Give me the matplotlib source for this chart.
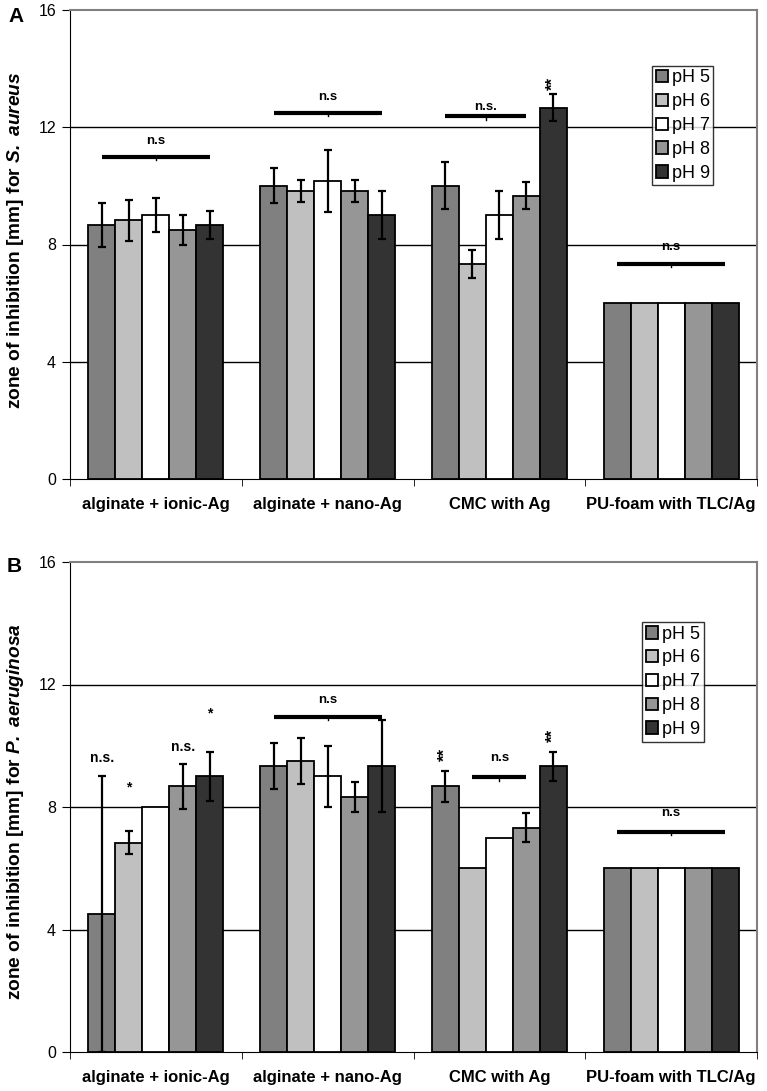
import numpy as np
import matplotlib
matplotlib.use("Agg")
import matplotlib.pyplot as plt
from matplotlib.patches import Patch

plt.rcParams['font.family'] = ['Liberation Sans', 'DejaVu Sans']
plt.rcParams['mathtext.fontset'] = 'custom'
plt.rcParams['mathtext.bfit'] = 'Liberation Sans:italic:bold'

# data
groups = ["alginate + ionic-Ag", "alginate + nano-Ag", "CMC with Ag", "PU-foam with TLC/Ag"]
ph_labels = ["pH 5", "pH 6", "pH 7", "pH 8", "pH 9"]
ph_colors = ["#808080", "#c0c0c0", "#ffffff", "#969696", "#333333"]

# panel A: S. aureus (rows = pH 5..9, columns = groups)
a_mean = [[8.67, 10.0, 10.0, 6.0],
          [8.83, 9.83, 7.33, 6.0],
          [9.0, 10.17, 9.0, 6.0],
          [8.5, 9.83, 9.67, 6.0],
          [8.67, 9.0, 12.67, 6.0]]
a_err = [[0.75, 0.6, 0.8, 0],
         [0.7, 0.37, 0.47, 0],
         [0.58, 1.07, 0.82, 0],
         [0.5, 0.37, 0.47, 0],
         [0.47, 0.82, 0.47, 0]]

# panel B: P. aeruginosa
b_mean = [[4.5, 9.33, 8.67, 6.0],
          [6.83, 9.5, 6.0, 6.0],
          [8.0, 9.0, 7.0, 6.0],
          [8.67, 8.33, 7.33, 6.0],
          [9.0, 9.33, 9.33, 6.0]]
b_err = [[4.5, 0.75, 0.5, 0],
         [0.38, 0.75, 0, 0],
         [0, 1.0, 0, 0],
         [0.75, 0.48, 0.47, 0],
         [0.8, 1.5, 0.47, 0]]

# significance bars: (group, first pH idx, last pH idx, line y, text y, label)
a_lines = [(0, 0, 4, 11.0, 11.53, "n.s"), (1, 0, 4, 12.5, 13.04, "n.s"),
           (2, 0, 3, 12.37, 12.69, "n.s."), (3, 0, 4, 7.35, 7.92, "n.s")]
b_lines = [(1, 0, 4, 10.95, 11.48, "n.s"), (2, 1, 3, 8.97, 9.59, "n.s"),
           (3, 0, 4, 7.2, 7.8, "n.s")]
# single marks: (group, pH idx, y, label)
a_marks = [(2, 4, 13.5, "**")]
b_marks = [(0, 0, 9.59, "n.s."), (0, 1, 8.65, "*"), (0, 3, 9.96, "n.s."), (0, 4, 11.05, "*"),
           (2, 0, 9.7, "**"), (2, 4, 10.35, "**")]

bw = 0.157
x = np.arange(len(groups))


def panel(ax, mean, err, lines, marks, leg_anchor):
    for i in range(len(ph_labels)):
        xs = x + (i - 2) * bw
        ax.bar(xs, mean[i], bw, color=ph_colors[i], edgecolor='black', linewidth=1.3, zorder=3)
        e = np.array(err[i])
        m = np.array(mean[i])
        ok = e > 0
        ax.errorbar(xs[ok], m[ok], yerr=e[ok], fmt='none', ecolor='black',
                    elinewidth=1.6, capsize=2.8, capthick=1.6, zorder=4)
    for g, i0, i1, y, ty, t in lines:
        x0 = g + (i0 - 2) * bw
        x1 = g + (i1 - 2) * bw
        ax.plot([x0, x1], [y, y], color='black', lw=3, solid_capstyle='butt', zorder=5)
        ax.plot([(x0 + x1) / 2] * 2, [y, y - 0.12], color='black', lw=1, zorder=5)
        ax.text((x0 + x1) / 2, ty, t, ha='center', va='center', fontsize=9.5,
                fontweight='bold')
    for g, i, y, t in marks:
        if t == "**":
            ax.text(g + (i - 2) * bw, y, t, ha='center', va='center', fontsize=12,
                    fontweight='bold', rotation=90)
        else:
            ax.text(g + (i - 2) * bw, y, t, ha='center', va='center', fontsize=10,
                    fontweight='bold')

    ax.set_xlim(-0.5, 3.5)
    ax.set_ylim(0, 16)
    ax.set_yticks([0, 4, 8, 12, 16])
    ax.tick_params(axis='y', direction='out', length=6, labelsize=11.5, pad=4)
    ax.set_xticks(x)
    ax.set_xticklabels(groups, fontsize=12, fontweight='bold')
    ax.tick_params(axis='x', length=0, pad=13)
    ax.set_xticks([-0.5, 0.5, 1.5, 2.5, 3.5], minor=True)
    ax.tick_params(axis='x', which='minor', direction='out', length=5)
    for yv in [4, 8, 12]:
        ax.axhline(yv, color='black', lw=1, zorder=1)
    ax.spines['top'].set_color('#808080')
    ax.spines['right'].set_color('#808080')
    ax.spines['top'].set_linewidth(1.5)
    ax.spines['right'].set_linewidth(1.5)

    handles = [Patch(facecolor=c, edgecolor='black', linewidth=1.3) for c in ph_colors]
    leg = ax.legend(handles, ph_labels, loc='upper left', bbox_to_anchor=leg_anchor,
                    borderaxespad=0, fontsize=13, frameon=True, fancybox=False,
                    handlelength=0.7, handleheight=0.7, handletextpad=0.2,
                    labelspacing=0.38, borderpad=0.2)
    leg.get_frame().set_edgecolor('black')
    leg.get_frame().set_linewidth(1)
    leg.set_zorder(6)


W, H = 767, 1091
fig = plt.figure(figsize=(W / 100, H / 100), dpi=100)
ax1 = fig.add_axes([70 / W, 612 / H, 687 / W, 469 / H])
ax2 = fig.add_axes([70 / W, 39 / H, 687 / W, 490 / H])

panel(ax1, a_mean, a_err, a_lines, a_marks, (0.847, 0.881))
panel(ax2, b_mean, b_err, b_lines, b_marks, (0.8326, 0.8776))

fig.text(16 / W, 1 - 240 / H, r"zone of inhibition [mm] for $\mathbfit{S.}$ $\mathbfit{aureus}$",
         rotation=90, ha='center', va='center', fontsize=13.8, fontweight='bold')
fig.text(16 / W, 1 - 811 / H, r"zone of inhibition [mm] for $\mathbfit{P.}$ $\mathbfit{aeruginosa}$",
         rotation=90, ha='center', va='center', fontsize=13.8, fontweight='bold')
fig.text(16 / W, 1 - 17 / H, "A", ha='center', va='center', fontsize=15, fontweight='bold')
fig.text(14 / W, 1 - 566 / H, "B", ha='center', va='center', fontsize=15, fontweight='bold')

fig.savefig("out.png", dpi=100)
